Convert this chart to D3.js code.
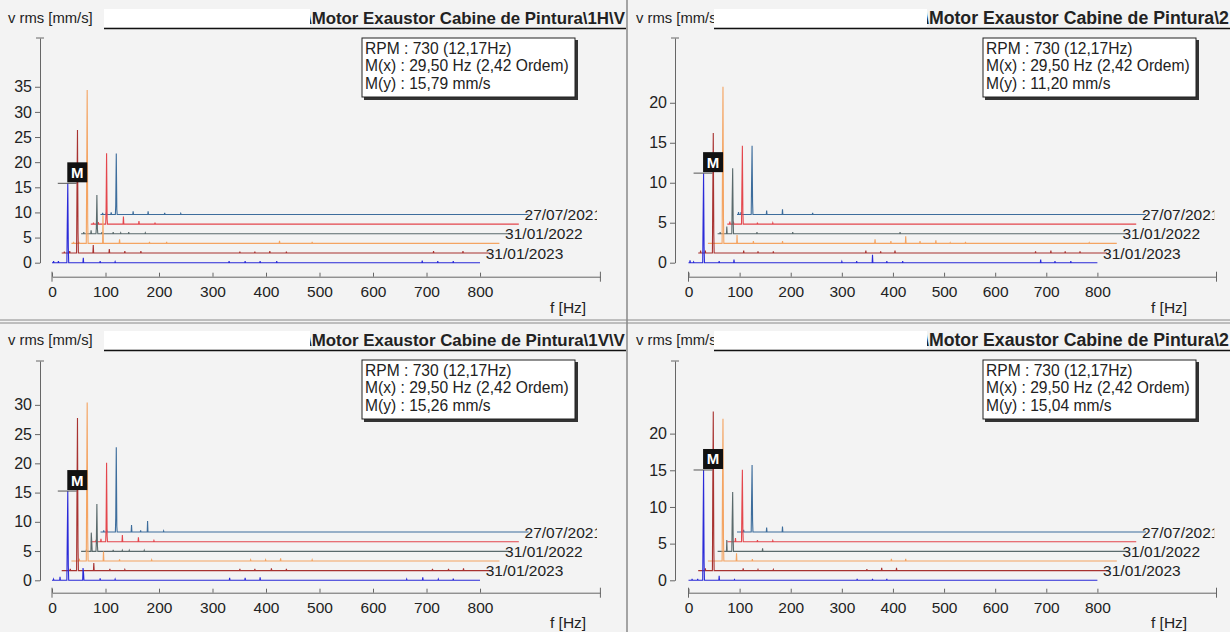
<!DOCTYPE html>
<html>
<head>
<meta charset="utf-8">
<script src="https://cdn.jsdelivr.net/npm/d3@7"></script>
<style>
  body { margin: 0; background: #f3f3f3; }
  svg { display: block; }
  text { font-family: "Liberation Sans", Arial, sans-serif; fill: #222; }
</style>
</head>
<body>
<svg width="1230" height="632"></svg>
<script>
// ---- data ----
var traceColors = ["#2a2ad8", "#a83230", "#f4a462", "#5a6a6c", "#e4464c", "#3d6d9c"];
var traceDates = ["", "31/01/2023", "", "31/01/2022", "", "27/07/2021"];
var freqTicks = [0, 100, 200, 300, 400, 500, 600, 700, 800];
var legendRows = ["RPM : 730 (12,17Hz)", "M(x) : 29,50 Hz (2,42 Ordem)"];
var markerX = 29.5;
var markerValues = [15.79, 11.20, 15.26, 15.04];
var titles = ["\\Motor Exaustor Cabine de Pintura\\1H\\V", "\\Motor Exaustor Cabine de Pintura\\2",
              "\\Motor Exaustor Cabine de Pintura\\1V\\V", "\\Motor Exaustor Cabine de Pintura\\2"];
var yTicksTL = [0, 5, 10, 15, 20, 25, 30, 35];
var yTicksTR = [0, 5, 10, 15, 20];
var yTicksBL = [0, 5, 10, 15, 20, 25, 30];
var yTicksBR = [0, 5, 10, 15, 20];

// peaks [f Hz, amplitude mm/s above own baseline], bottom trace first
var peaksTL = [
  [[3,0.3],[12,0.3],[28.5,7.2],[29.5,15.79],[30.5,3],[58.5,1.0],[90,0.3],[118,0.2],[331,0.3],[361,0.3],[389,0.3],[420,0.3],[692,0.4],[721,0.3],[750,0.3]],
  [[5,0.3],[15,0.4],[28.5,11.4],[29.5,24.5],[30.5,4],[59,1.6],[89,0.8],[118,0.4],[148,0.4],[333,0.3],[361,0.3],[389,0.4],[420,0.3],[695,0.4],[750,0.4]],
  [[4,0.3],[14,0.3],[28.5,12],[29.5,30.5],[30.5,4],[59,5.6],[90,0.8],[146,0.3],[178,0.3],[389,0.5],[450,0.3]],
  [[5,0.3],[18.7,0.7],[28.5,1.2],[29.5,7.7],[30.5,1.0],[39,0.3],[60,0.3],[74,0.2],[89,0.3],[120,0.2]],
  [[5,0.3],[14,0.4],[28.5,2.1],[29.5,14.1],[30.5,1],[61,1.5],[90,0.6],[120,0.3]],
  [[4,0.3],[11,0.4],[20,0.4],[28.5,1.9],[29.5,12.1],[30.5,1],[61,0.6],[89,0.6],[120,0.3],[150,0.2]]
];
var peaksTR = [
  [[3,0.3],[10,0.1],[28.5,4.9],[29.5,11.2],[30.5,2],[60,0.2],[89,0.4],[300,0.15],[329,0.2],[360,1.0],[388,0.2],[419,0.2],[689,0.4],[717,0.2],[748,0.2]],
  [[4.7,0.3],[14,0.3],[28.5,7.05],[29.5,15.0],[30.5,2.5],[89,0.3],[117,0.2],[147,0.2],[328,0.3],[357,0.2],[385,0.3],[660,0.2],[690,0.3],[718,0.2],[747,0.2]],
  [[28.5,9],[29.5,19.6],[30.5,3],[57,1.05],[89,0.3],[146,0.3],[327,0.5],[358,0.3],[387,0.9],[415,0.3],[446,0.4],[474,0.1],[504,0.2],[746,0.1]],
  [[5,0.2],[18,0.9],[28.5,4.0],[29.5,8.2],[30.5,1.5],[77,0.2],[147,0.2],[357,0.2]],
  [[5,0.3],[12,0.3],[28.5,4.05],[29.5,9.8],[30.5,1.5],[59,0.2],[89,0.15]],
  [[3,0.3],[8,0.3],[28.5,3.9],[29.5,8.6],[30.5,1.5],[58,0.5],[89,0.65],[148,0.2]]
];
var peaksBL = [
  [[3,0.2],[15,0.6],[28.5,6.9],[29.5,15.26],[30.5,2.5],[58,2.1],[59,1.2],[90,0.35],[118,0.2],[332,0.4],[361,0.4],[389,0.5],[663,0.2],[693,0.5],[722,0.2],[750,0.3]],
  [[16,0.3],[28.5,12.1],[29.5,26.1],[30.5,4],[60,1.3],[90,0.3],[118,0.2],[333,0.3],[361,0.3],[392,0.4],[420,0.3],[693,0.3],[723,0.3],[751,0.4]],
  [[15,0.2],[28.5,11.6],[29.5,27.1],[30.5,4],[60,1.6],[90,0.3],[150,0.2],[335,0.2],[363,0.2],[391,0.45],[450,0.2]],
  [[10,0.3],[19,3.2],[20,1.5],[28.5,1.7],[29.5,8.1],[30.5,1],[60,0.25],[77,0.2],[90,0.2],[118,0.2]],
  [[10,0.3],[19,0.5],[28.5,2.0],[29.5,13.5],[30.5,1],[59,1.15],[89,0.75],[118,0.2]],
  [[6,0.3],[12,0.2],[28.5,2.4],[29.5,14.5],[30.5,1],[58,1.2],[75,0.3],[88,1.9],[118,0.2]]
];
var peaksBR = [
  [[7,0.2],[18,0.2],[28.5,6.6],[29.5,15.04],[30.5,2.5],[60,0.6],[90,0.1],[330,0.2],[360,0.2],[388,0.2]],
  [[14,0.3],[28.5,11.1],[29.5,21.7],[30.5,3.5],[88,0.3],[117,0.15],[147,0.15],[330,0.2],[359,0.4],[388,0.4]],
  [[28.5,9.5],[29.5,19.4],[30.5,3],[56,1.05],[87,0.25],[359,0.3],[387,0.3]],
  [[18,1.55],[28.5,4.05],[29.5,8.1],[30.5,1.5],[88,0.4]],
  [[16,0.5],[28.5,4.3],[29.5,9.8],[30.5,1.5],[59,0.2],[89,0.15]],
  [[13,0.3],[28.5,4.15],[29.5,9.15],[30.5,1.5],[58,0.6],[89,0.75]]
];

// ---- layout of the four panels ----
var panels = [
  {peaks: peaksTL, ticks: yTicksTL, yMax: 44.7, xMax: 1025, xr: [52, 600.4], yr: [262.7, 38], axisX: 40, axisY: 276.7,
   left: 0, right: 626, titleEnd: 625, head: 18, box: [104, 310], legend: [362, 38], flab: [550, 313]},
  {peaks: peaksTR, ticks: yTicksTR, yMax: 28.1, xMax: 1033, xr: [688.5, 1216.5], yr: [262.7, 38], axisX: 675, axisY: 276.7,
   left: 628, right: 1230, titleEnd: 1229, head: 18, box: [714, 927], legend: [983, 38], flab: [1151, 313]},
  {peaks: peaksBL, ticks: yTicksBL, yMax: 37.5, xMax: 1025, xr: [52, 600.4], yr: [580.3, 361], axisX: 40, axisY: 592.7,
   left: 0, right: 626, titleEnd: 625, head: 340, box: [104, 310], legend: [362, 360], flab: [550, 628]},
  {peaks: peaksBR, ticks: yTicksBR, yMax: 29.9, xMax: 1033, xr: [688.5, 1216.5], yr: [580.3, 361], axisX: 675, axisY: 592.7,
   left: 628, right: 1230, titleEnd: 1229, head: 340, box: [714, 927], legend: [983, 360], flab: [1151, 628]}
];
var dx = 9.7, dy = 9.65;

var svg = d3.select("svg");
svg.append("rect").attr("width", 1230).attr("height", 632).attr("fill", "#f3f3f3");

// frame lines between the panels
svg.append("line").attr("x1", 627).attr("x2", 627).attr("y1", 0).attr("y2", 632).attr("stroke", "#888").attr("stroke-width", 1.5);
svg.append("line").attr("x1", 0).attr("x2", 1230).attr("y1", 320).attr("y2", 320).attr("stroke", "#888").attr("stroke-width", 1);
svg.append("line").attr("x1", 0).attr("x2", 1230).attr("y1", 323).attr("y2", 323).attr("stroke", "#888").attr("stroke-width", 1);

function spectrumPoints(peaks) {
  var pts = [[0, 0]];
  var s = peaks.slice().sort(function(a, b) { return a[0] - b[0]; });
  s.forEach(function(p, i) {
    var prev = s[i - 1], next = s[i + 1];
    if (!prev || p[0] - prev[0] > 1.5) pts.push([p[0] - 0.7, 0]);
    pts.push(p);
    if (!next || next[0] - p[0] > 1.5) pts.push([p[0] + 0.7, 0]);
  });
  pts.push([800, 0]);
  return pts;
}

panels.forEach(function(P, pi) {
  var x = d3.scaleLinear().domain([0, P.xMax]).range(P.xr);
  var y = d3.scaleLinear().domain([0, P.yMax]).range(P.yr);
  var g = svg.append("g");

  var clipHead = "cliph" + pi;
  svg.append("clipPath").attr("id", clipHead).append("rect")
    .attr("x", P.left).attr("y", P.head - 20).attr("width", P.right - P.left).attr("height", 40);

  // header
  var hg = g.append("g").attr("clip-path", "url(#" + clipHead + ")");
  hg.append("text").attr("x", P.left + 8).attr("y", P.head + 5).attr("font-size", 14.8).text("v rms [mm/s]");
  var title = hg.append("text").attr("x", P.box[1] - 3).attr("y", P.head + 5.5).attr("font-size", 16.7)
    .attr("font-weight", "bold").attr("fill", "#111").text(titles[pi]);
  var tw = title.node().getComputedTextLength();
  title.attr("font-size", 16.7 * (P.titleEnd - P.box[1] + 3) / tw);
  hg.append("rect").attr("x", P.box[0]).attr("y", P.head - 9).attr("width", P.box[1] - P.box[0]).attr("height", 18).attr("fill", "#fff");
  hg.append("line").attr("x1", P.box[0]).attr("x2", P.right).attr("y1", P.head + 10.5).attr("y2", P.head + 10.5)
    .attr("stroke", "#111").attr("stroke-width", 1.6);

  // y axis
  var ya = g.append("g").attr("transform", "translate(" + P.axisX + ",0)")
    .call(d3.axisLeft(y).tickValues(P.ticks).tickSize(5).tickSizeOuter(0).tickPadding(3));
  ya.selectAll("path,line").attr("stroke", "#666");
  ya.selectAll("text").attr("font-size", 16).attr("fill", "#333").attr("font-family", "Liberation Sans, Arial, sans-serif");
  g.append("line").attr("x1", P.axisX - 4).attr("x2", P.axisX + 4).attr("y1", P.yr[1]).attr("y2", P.yr[1]).attr("stroke", "#666");

  // x axis
  var xa = g.append("g").attr("transform", "translate(0," + P.axisY + ")")
    .call(d3.axisBottom(x).tickValues(freqTicks).tickSize(-4).tickSizeOuter(0).tickPadding(9).tickFormat(d3.format("d")));
  xa.selectAll("path,line").attr("stroke", "#666");
  xa.selectAll("text").attr("font-size", 15.5).attr("fill", "#333").attr("font-family", "Liberation Sans, Arial, sans-serif");
  [0, P.xMax].forEach(function(v) {
    g.append("line").attr("x1", x(v)).attr("x2", x(v)).attr("y1", P.axisY - 5).attr("y2", P.axisY + 5).attr("stroke", "#666");
  });
  g.append("text").attr("x", P.flab[0]).attr("y", P.flab[1]).attr("font-size", 15.5).attr("fill", "#333").text("f [Hz]");

  // waterfall traces, back to front
  var line = d3.line().x(function(d) { return x(d[0]); }).y(function(d) { return y(d[1]); });
  var tg = g.append("g");
  d3.range(5, -1, -1).forEach(function(i) {
    tg.append("path")
      .attr("transform", "translate(" + (i * dx) + "," + (-i * dy) + ")")
      .attr("d", line(spectrumPoints(P.peaks[i])))
      .attr("fill", "none").attr("stroke", traceColors[i]).attr("stroke-width", 1.1);
  });

  // date labels; the top one is cut off at the plot edge like in the screen copy
  var clipId = "clip" + pi;
  var clipRect = svg.append("clipPath").attr("id", clipId).append("rect")
    .attr("x", P.left).attr("y", P.head - 20).attr("width", P.right - P.left).attr("height", 320);
  var lg0 = g.append("g").attr("clip-path", "url(#" + clipId + ")");
  traceDates.forEach(function(t, i) {
    if (!t) return;
    var lx = x(800) + i * dx - 4;
    var tx = lg0.append("text").attr("x", lx).attr("y", y(0) - i * dy + 5.5)
      .attr("font-size", 15.5).attr("fill", "#333").text(t);
    if (i === 5) clipRect.attr("width", lx + tx.node().getSubStringLength(0, 9) + 3.4 - P.left);
  });

  // marker
  var mx = x(markerX), my = y(markerValues[pi]);
  g.append("line").attr("x1", mx - 10).attr("x2", mx + 9).attr("y1", my).attr("y2", my).attr("stroke", "#555");
  g.append("rect").attr("x", mx - 0.5).attr("y", my - 21).attr("width", 20).attr("height", 20).attr("fill", "#111");
  g.append("text").attr("x", mx + 9.5).attr("y", my - 5.5).attr("text-anchor", "middle")
    .attr("font-size", 15).attr("font-weight", "bold").style("fill", "#fff").text("M");

  // legend box
  var rows = legendRows.concat(["M(y) : " + d3.format(".2f")(markerValues[pi]).replace(".", ",") + " mm/s"]);
  var lg = g.append("g").attr("transform", "translate(" + P.legend[0] + "," + P.legend[1] + ")");
  lg.append("rect").attr("x", 2).attr("y", 2).attr("width", 214).attr("height", 60).attr("fill", "#333");
  lg.append("rect").attr("x", 0).attr("y", 0).attr("width", 213).attr("height", 59).attr("fill", "#fff").attr("stroke", "#222");
  rows.forEach(function(r, k) {
    lg.append("text").attr("x", 3).attr("y", 15.5 + k * 17.5).attr("font-size", 15.6).attr("fill", "#111").text(r);
  });
});
</script>
</body>
</html>
